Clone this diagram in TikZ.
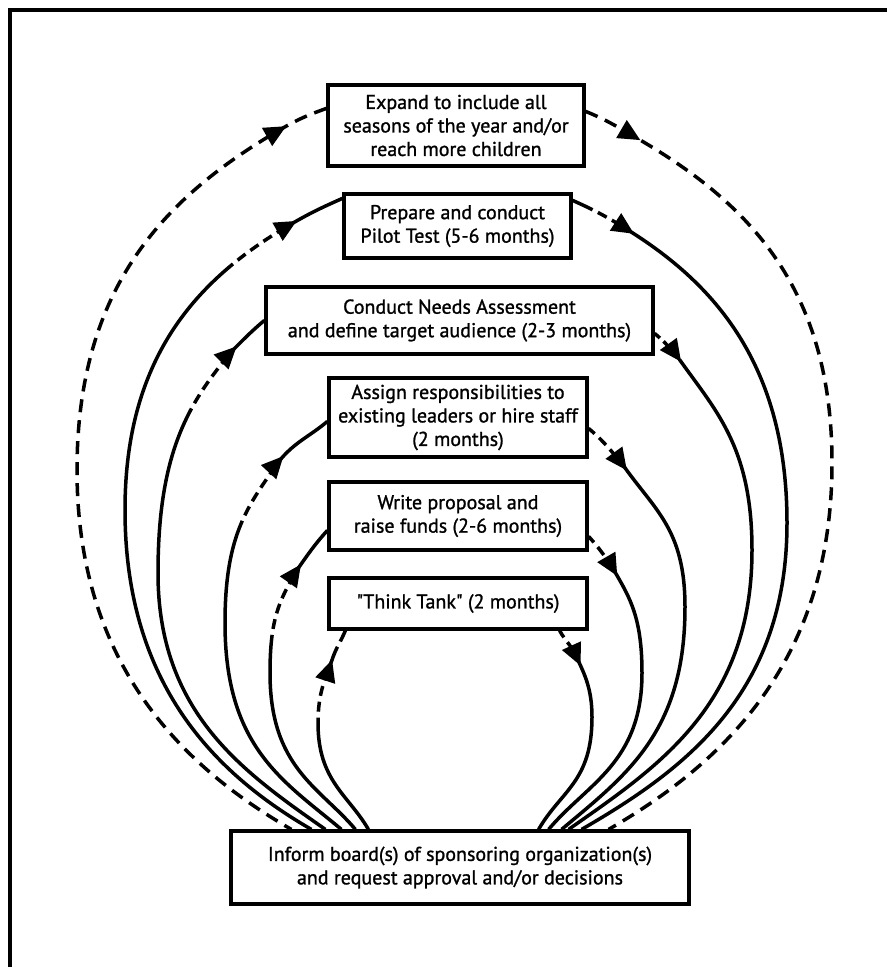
\documentclass[tikz,border=0pt]{standalone}
\usepackage{fontspec}
\setmainfont{PT Sans}
\newfontfamily\boxfont{PT Sans}[FakeBold=1.2]
\usetikzlibrary{arrows.meta,decorations.markings}
\begin{document}
\begin{tikzpicture}[x=1pt,y=1pt,
  box/.style={draw, line width=3.2pt, rectangle, inner sep=0pt, align=center,
    font=\boxfont\fontsize{20}{23.5}\selectfont},
  flow/.style={line width=3.5pt},
  larr/.style={postaction={decorate,decoration={markings,
    mark=at position #1 with {\arrowreversed{Triangle[length=22pt,width=20pt]}}}}},
  rarr/.style={postaction={decorate,decoration={markings,
    mark=at position #1 with {\arrow{Triangle[length=22pt,width=20pt]}}}}},
  frame/.style={line width=3.2pt}]
\useasboundingbox (0,0) rectangle (887,-967);
% frame (top and left only)
\coordinate (fr1) at (887,-10);
\coordinate (fr2) at (10,-10);
\coordinate (fr3) at (10,-967);
\draw[frame] (fr1) -- (fr2) -- (fr3);

% boxes
\node[box, minimum width=256pt, minimum height=81pt] (expand) at (456,-125.5)
  {Expand to include all\\seasons of the year and/or\\reach more children};
\node[box, minimum width=227pt, minimum height=64pt] (pilot) at (457.5,-226)
  {Prepare and conduct\\Pilot Test (5-6 months)};
\node[box, minimum width=387pt, minimum height=67pt] (needs) at (459.5,-320.5)
  {Conduct Needs Assessment\\and define target audience (2-3 months)};
\node[box, minimum width=258pt, minimum height=79pt] (assign) at (458,-417.5)
  {Assign responsibilities to\\existing leaders or hire staff\\(2 months)};
\node[box, minimum width=258pt, minimum height=68pt] (write) at (458,-516)
  {Write proposal and\\raise funds (2-6 months)};
\node[box, minimum width=258pt, minimum height=51pt] (think) at (458,-603.5)
  {"Think Tank" (2 months)};
\node[box, minimum width=458pt, minimum height=73pt] (inform) at (460,-867.5)
  {Inform board(s) of sponsoring organization(s)\\and request approval and/or decisions};

% ---- Expand loop (dashed) ----
\draw[flow, dash pattern=on 13pt off 8pt, larr=44pt]
  ([yshift=-25pt]expand.north west) to[out=200,in=30] (283,-128)
  .. controls +(210:130) and +(90:188) .. (77,-470)
  .. controls +(270:195) and +(150:125) .. ([xshift=62pt]inform.north west);
\draw[flow, dash pattern=on 13pt off 8pt, rarr=62pt]
  ([yshift=-28pt]expand.north east) to[out=338,in=150] (635,-137)
  .. controls +(330:125) and +(90:180) .. (832,-463)
  .. controls +(270:200) and +(30:130) .. ([xshift=-82pt]inform.north east);

% ---- Pilot loop ----
\draw[flow, dash pattern=on 74pt off 6pt on 10pt off 6pt on 10pt off 6pt on 10pt off 6pt on 3000pt, larr=51pt]
  ([yshift=-6pt]pilot.north west) to[out=204,in=30] (293,-223)
  .. controls +(210:105) and +(90:158) .. (125,-510)
  .. controls +(270:175) and +(150:110) .. ([xshift=82pt]inform.north west);
\draw[flow, dash pattern=on 22pt off 6pt on 10pt off 6pt on 10pt off 6pt on 3000pt, rarr=70pt]
  ([yshift=-8pt]pilot.north east) to[out=336,in=148] (628,-230)
  .. controls +(328:100) and +(90:160) .. (787,-523)
  .. controls +(270:170) and +(30:120) .. ([xshift=-109pt]inform.north east);

% ---- Needs loop ----
\draw[flow, dash pattern=on 61pt off 6pt on 10pt off 6pt on 10pt off 6pt on 10pt off 6pt on 3000pt, larr=38pt]
  ([yshift=-35pt]needs.north west) to[out=220,in=45] (233,-350)
  .. controls +(230:67) and +(90:123) .. (158,-573)
  .. controls +(270:140) and +(145:100) .. ([xshift=96pt]inform.north west);
\draw[flow, dash pattern=on 7pt off 5pt on 7pt off 5pt on 7pt off 5pt on 3000pt, rarr=39pt]
  ([yshift=-48pt]needs.north east) to[out=320,in=132] (677,-356)
  .. controls +(305:65) and +(90:105) .. (752,-550)
  .. controls +(270:155) and +(35:110) .. ([xshift=-122pt]inform.north east);

% ---- Assign loop ----
\draw[flow, dash pattern=on 79pt off 6pt on 10pt off 6pt on 10pt off 6pt on 10pt off 6pt on 3000pt, larr=56pt]
  ([yshift=-45pt]assign.north west) to[out=220,in=50] (280,-460)
  .. controls +(235:55) and +(90:90) .. (225,-623)
  .. controls +(270:125) and +(140:75) .. ([xshift=112pt]inform.north west);
\draw[flow, dash pattern=on 8pt off 6pt on 10pt off 6pt on 10pt off 6pt on 3000pt, rarr=57pt]
  ([yshift=-52pt]assign.north east) to[out=320,in=130] (623,-465)
  .. controls +(305:55) and +(90:78) .. (685,-607)
  .. controls +(270:125) and +(40:85) .. ([xshift=-129pt]inform.north east);

% ---- Write loop ----
\draw[flow, dash pattern=on 66pt off 6pt on 10pt off 6pt on 10pt off 6pt on 10pt off 6pt on 3000pt, larr=43pt]
  ([yshift=-50pt]write.north west) to[out=228,in=55] (297,-570)
  .. controls +(240:35) and +(90:55) .. (270,-673)
  .. controls +(270:95) and +(130:55) .. ([xshift=126pt]inform.north west);
\draw[flow, dash pattern=on 8pt off 6pt on 10pt off 6pt on 3000pt, rarr=49pt]
  ([yshift=-56pt]write.north east) to[out=312,in=122] (615,-572)
  .. controls +(300:30) and +(90:55) .. (642,-673)
  .. controls +(270:90) and +(50:60) .. ([xshift=-142pt]inform.north east);

% ---- Think loop ----
\draw[flow, dash pattern=on 12pt off 6pt on 36pt off 6pt on 10pt off 6pt on 10pt off 6pt on 3000pt, larr=32pt]
  ([xshift=18pt]think.south west) to[out=247,in=72] (332,-660)
  .. controls +(250:20) and +(90:30) .. (318,-723)
  .. controls +(270:58) and +(120:40) .. ([xshift=139pt]inform.north west);
\draw[flow, dash pattern=on 8pt off 6pt on 8pt off 6pt on 3000pt, rarr=41pt]
  ([xshift=-29pt]think.south east) to[out=299,in=112] (577,-658)
  .. controls +(295:18) and +(90:28) .. (592,-717)
  .. controls +(270:65) and +(60:45) .. ([xshift=-152pt]inform.north east);
\end{tikzpicture}
\end{document}
